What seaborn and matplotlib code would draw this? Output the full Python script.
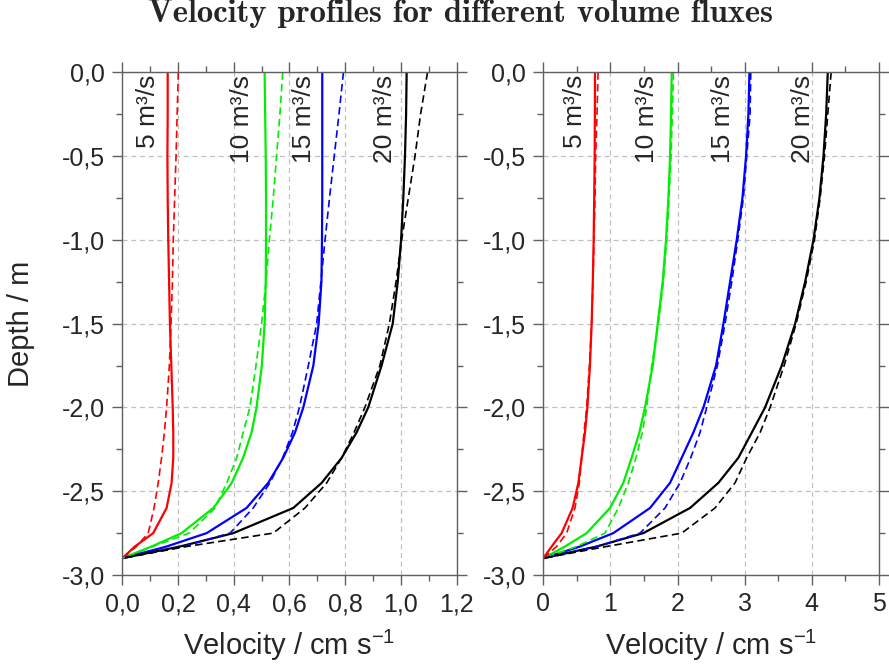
import numpy as np
import pandas as pd
import matplotlib
matplotlib.use("Agg")
import matplotlib.pyplot as plt
from matplotlib.ticker import MultipleLocator, FixedLocator, FixedFormatter
import seaborn as sns

# ---------------- data ----------------
depth = [0.0, -0.25, -0.5, -0.75, -1.0, -1.25, -1.5, -1.75, -2.0, -2.15,
         -2.3, -2.45, -2.6, -2.75, -2.83, -2.9]
fluxes = ["5", "10", "15", "20"]

# left panel (velocity, cm/s)
left_solid = {
    "5":  [0.163, 0.163, 0.162, 0.163, 0.165, 0.168, 0.171, 0.176, 0.181, 0.183, 0.183, 0.177, 0.159, 0.111, 0.045, 0.0],
    "10": [0.511, 0.513, 0.515, 0.516, 0.516, 0.515, 0.511, 0.501, 0.482, 0.464, 0.434, 0.393, 0.327, 0.213, 0.105, 0.0],
    "15": [0.718, 0.718, 0.718, 0.718, 0.717, 0.715, 0.705, 0.686, 0.650, 0.620, 0.578, 0.524, 0.446, 0.303, 0.159, 0.0],
    "20": [1.021, 1.019, 1.015, 1.009, 1.001, 0.989, 0.971, 0.931, 0.883, 0.841, 0.788, 0.716, 0.614, 0.399, 0.207, 0.0],
}
left_dashed = {
    "5":  [0.201, 0.197, 0.193, 0.188, 0.183, 0.180, 0.175, 0.169, 0.159, 0.151, 0.141, 0.129, 0.114, 0.093, 0.051, 0.0],
    "10": [0.576, 0.566, 0.554, 0.542, 0.528, 0.516, 0.500, 0.480, 0.458, 0.434, 0.411, 0.375, 0.333, 0.240, 0.110, 0.0],
    "15": [0.794, 0.778, 0.761, 0.744, 0.728, 0.713, 0.698, 0.668, 0.636, 0.611, 0.576, 0.530, 0.470, 0.387, 0.219, 0.0],
    "20": [1.096, 1.071, 1.051, 1.027, 1.003, 0.983, 0.959, 0.925, 0.871, 0.832, 0.788, 0.734, 0.656, 0.542, 0.231, 0.0],
}
# right panel (velocity, cm/s)
right_solid = {
    "5":  [0.770, 0.768, 0.765, 0.758, 0.750, 0.737, 0.720, 0.695, 0.656, 0.621, 0.571, 0.522, 0.437, 0.273, 0.124, 0.0],
    "10": [1.913, 1.903, 1.888, 1.863, 1.828, 1.778, 1.704, 1.630, 1.515, 1.431, 1.316, 1.192, 0.994, 0.646, 0.323, 0.0],
    "15": [3.070, 3.055, 3.020, 2.966, 2.881, 2.782, 2.683, 2.573, 2.385, 2.235, 2.062, 1.888, 1.590, 1.043, 0.546, 0.0],
    "20": [4.237, 4.213, 4.173, 4.113, 4.024, 3.900, 3.751, 3.552, 3.303, 3.105, 2.906, 2.608, 2.186, 1.490, 0.795, 0.0],
}
right_dashed = {
    "5":  [0.815, 0.800, 0.780, 0.770, 0.755, 0.740, 0.720, 0.686, 0.646, 0.606, 0.571, 0.537, 0.472, 0.348, 0.199, 0.0],
    "10": [1.937, 1.922, 1.903, 1.873, 1.838, 1.788, 1.714, 1.615, 1.540, 1.475, 1.381, 1.267, 1.118, 0.919, 0.497, 0.0],
    "15": [3.090, 3.080, 3.030, 2.980, 2.896, 2.807, 2.707, 2.593, 2.434, 2.334, 2.196, 2.037, 1.813, 1.441, 0.795, 0.0],
    "20": [4.287, 4.237, 4.188, 4.123, 4.039, 3.915, 3.766, 3.587, 3.378, 3.229, 3.030, 2.856, 2.558, 2.062, 0.940, 0.0],
}

left_xticks = [0.0, 0.2, 0.4, 0.6, 0.8, 1.0, 1.2]
left_xlabels = ["0,0", "0,2", "0,4", "0,6", "0,8", "1,0", "1,2"]
right_xticks = [0, 1, 2, 3, 4, 5]
right_xlabels = ["0", "1", "2", "3", "4", "5"]
yticks = [0.0, -0.5, -1.0, -1.5, -2.0, -2.5, -3.0]
ylabels = ["0,0", "-0,5", "-1,0", "-1,5", "-2,0", "-2,5", "-3,0"]

labels = ["5 m³/s", "10 m³/s", "15 m³/s", "20 m³/s"]
left_label_x = [0.093, 0.431, 0.653, 0.944]
right_label_x = [0.47, 1.55, 2.68, 3.87]

title = "Velocity profiles for different volume fluxes"

# ---------------- style ----------------
sns.set_style("ticks")
plt.rcParams["font.family"] = ["Liberation Sans", "DejaVu Sans"]
plt.rcParams["mathtext.fontset"] = "custom"
plt.rcParams["mathtext.rm"] = "Liberation Sans"
plt.rcParams["mathtext.it"] = "Liberation Sans"

palette = {"5": "#ff0000", "10": "#00ee00", "15": "#0000ff", "20": "#000000"}
frame_col = "#606060"


def build_df(solid, dashed):
    rows = []
    for f in fluxes:
        for kind, src in (("solid", solid), ("dashed", dashed)):
            for d, v in zip(depth, src[f]):
                rows.append({"v": v, "d": d, "flux": f, "kind": kind})
    return pd.DataFrame(rows)


fig = plt.figure(figsize=(8.89, 6.68), dpi=100)
ax1 = fig.add_axes([122.3 / 889, 1 - 575 / 668, (456.5 - 122.3) / 889, (575 - 72.3) / 668])
ax2 = fig.add_axes([543.3 / 889, 1 - 575 / 668, (879 - 543.3) / 889, (575 - 72.3) / 668])

panels = [
    (ax1, build_df(left_solid, left_dashed), (0, 1.2), left_xticks, left_xlabels, 0.1, left_label_x),
    (ax2, build_df(right_solid, right_dashed), (0, 5), right_xticks, right_xlabels, 0.5, right_label_x),
]

for ax, df, xlim, xt, xl, xminor, lab_x in panels:
    for kind, lw in (("solid", 1.6), ("dashed", 1.2)):
        sub = df[df["kind"] == kind]
        sns.lineplot(data=sub, x="v", y="d", hue="flux", palette=palette,
                     sort=False, estimator=None, legend=False, ax=ax,
                     linewidth=lw, linestyle="-" if kind == "solid" else (0, (4.5, 2.5)))
    ax.set_xlim(*xlim)
    ax.set_ylim(-3.0, 0.0)
    ax.xaxis.set_major_locator(FixedLocator(xt))
    ax.xaxis.set_major_formatter(FixedFormatter(xl))
    ax.xaxis.set_minor_locator(MultipleLocator(xminor))
    ax.yaxis.set_major_locator(FixedLocator(yticks))
    ax.yaxis.set_major_formatter(FixedFormatter(ylabels))
    ax.yaxis.set_minor_locator(MultipleLocator(0.25))
    ax.grid(True, which="major", color="#c0c0c0", linestyle=(0, (4, 3)), linewidth=0.9)
    ax.set_axisbelow(True)
    ax.tick_params(which="both", direction="out", top=True, right=True,
                   color=frame_col, width=1.0, labelsize=18, pad=5)
    ax.tick_params(which="major", length=7.5)
    ax.tick_params(which="minor", length=4)
    for s in ax.spines.values():
        s.set_color(frame_col)
        s.set_linewidth(1.0)
    ax.set_xlabel("Velocity / cm s$^{-1}$", fontsize=21)
    ax.xaxis.set_label_coords(0.5, -0.105)
    ax.set_ylabel("")
    for t, x in zip(labels, lab_x):
        ax.text(x, -0.016, t, rotation=90, ha="center", va="top", fontsize=19)

ax1.set_ylabel("Depth / m", fontsize=21)
ax1.yaxis.set_label_coords(-0.26, 0.5)

fig.text(460 / 889, 1 - 22 / 668, title, ha="center", va="baseline",
         fontsize=23.5, family="cmb10")

fig.savefig("out.png", dpi=100)
